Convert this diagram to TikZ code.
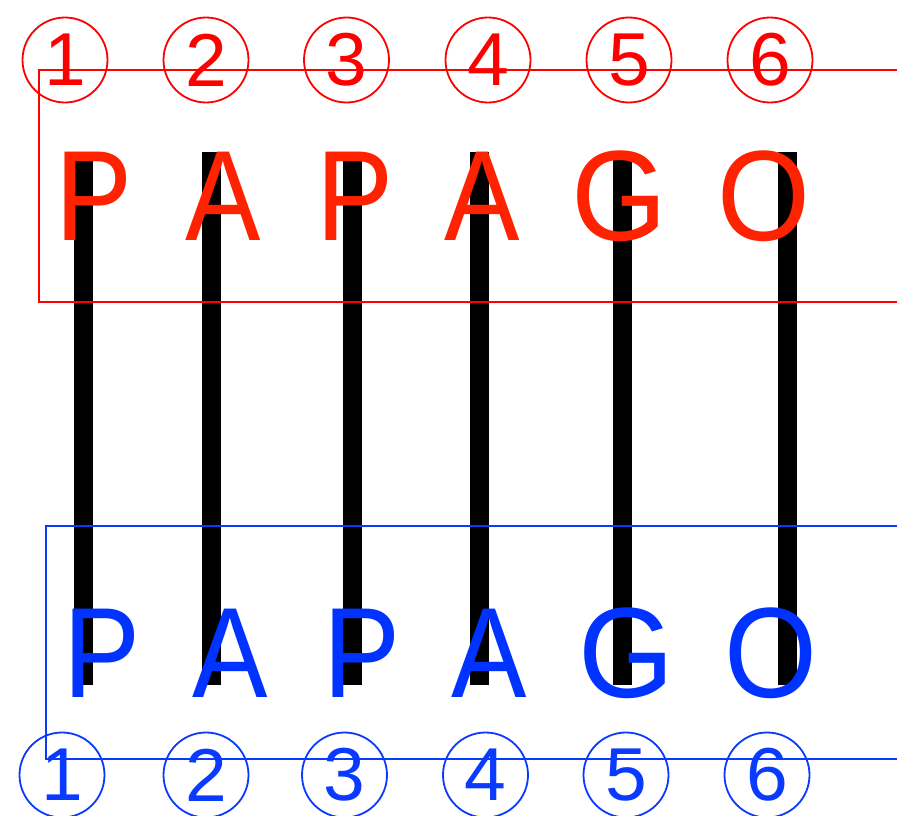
\documentclass[tikz,border=0pt]{standalone}
\usepackage{graphicx}
\usepackage{fontspec}
\setmainfont{Liberation Sans}
\definecolor{letred}{HTML}{FF2200}
\definecolor{linered}{HTML}{FF0000}
\definecolor{letblue}{HTML}{0033FF}
\definecolor{lineblue}{HTML}{0A3AFF}
\tikzset{
  bigletter/.style={anchor=base, inner sep=0pt, font=\fontsize{128.5}{130}\selectfont},
  numcircle/.style={circle, draw, line width=1.8pt, minimum size=85pt, inner sep=0pt,
                    font=\fontsize{75}{76}\selectfont},
  framebar/.style={line width=2pt},
  pinbar/.style={fill=black, draw=none}
}
\begin{document}
\begin{tikzpicture}[x=1pt,y=-1pt]
\useasboundingbox[fill=white] (0,0) rectangle (897,816);
% black bars
\foreach \bx/\bn in {83.5/1,211.5/2,352/3,479.5/4,622.5/5,787.5/6}{
  \fill[pinbar] (\bx-9.5,152) rectangle (\bx+9.5,685);
}
% frames
\draw[framebar, linered] (897,70) -- (39,70) -- (39,302) -- (897,302);
\draw[framebar, lineblue] (897,526) -- (46,526) -- (46,759) -- (897,759);
% red numbered circles
\node[numcircle, draw=linered, text=linered] (r1) at (65,60) {1};
\node[numcircle, draw=linered, text=linered] (r2) at (206,60) {2};
\node[numcircle, draw=linered, text=linered] (r3) at (346.5,60) {3};
\node[numcircle, draw=linered, text=linered] (r4) at (488,60) {4};
\node[numcircle, draw=linered, text=linered] (r5) at (629,60) {5};
\node[numcircle, draw=linered, text=linered] (r6) at (770,60) {6};
% blue numbered circles
\node[numcircle, draw=lineblue, text=lineblue] (b1) at (62,775) {1};
\node[numcircle, draw=lineblue, text=lineblue] (b2) at (206,775) {2};
\node[numcircle, draw=lineblue, text=lineblue] (b3) at (344.5,775) {3};
\node[numcircle, draw=lineblue, text=lineblue] (b4) at (485.5,775) {4};
\node[numcircle, draw=lineblue, text=lineblue] (b5) at (626,775) {5};
\node[numcircle, draw=lineblue, text=lineblue] (b6) at (767,775) {6};
% red letters
\node[bigletter, text=letred] (rl1) at (94,240) {\scalebox{0.9}[1]{P}};
\node[bigletter, text=letred] (rl2) at (223,240) {\scalebox{0.88}[1]{A}};
\node[bigletter, text=letred] (rl3) at (355,240) {\scalebox{0.9}[1]{P}};
\node[bigletter, text=letred] (rl4) at (482,240) {\scalebox{0.88}[1]{A}};
\node[bigletter, text=letred] (rl5) at (619,240) {\scalebox{0.96}[1]{G}};
\node[bigletter, text=letred] (rl6) at (764,240) {\scalebox{0.93}[1]{O}};
% blue letters
\node[bigletter, text=letblue] (bl1) at (102.5,697) {\scalebox{0.9}[1]{P}};
\node[bigletter, text=letblue] (bl2) at (230,697) {\scalebox{0.88}[1]{A}};
\node[bigletter, text=letblue] (bl3) at (362,697) {\scalebox{0.9}[1]{P}};
\node[bigletter, text=letblue] (bl4) at (489.5,697) {\scalebox{0.88}[1]{A}};
\node[bigletter, text=letblue] (bl5) at (626,697) {\scalebox{0.96}[1]{G}};
\node[bigletter, text=letblue] (bl6) at (771,697) {\scalebox{0.93}[1]{O}};
\end{tikzpicture}
\end{document}
